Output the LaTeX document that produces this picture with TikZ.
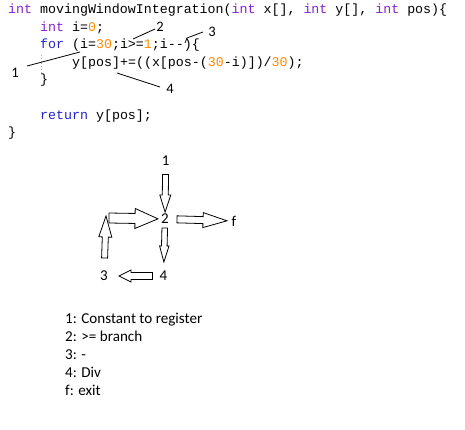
\documentclass[tikz,border=0pt]{standalone}
\usepackage{fontspec}
\setmonofont{Liberation Mono}
\newfontfamily\calfont{Carlito}
\usepackage{tikz}
\usetikzlibrary{calc}

\definecolor{kwint}{RGB}{135,35,205}
\definecolor{kwblue}{RGB}{35,35,205}
\definecolor{numor}{RGB}{255,140,0}

\newcommand\kint{\textcolor{kwint}{int}}
\newcommand\kwd[1]{\textcolor{kwblue}{#1}}
\newcommand\cnum[1]{\textcolor{numor}{#1}}

% hollow block arrow: from, to, gap at tail, gap at tip, shaft half width, head half width, head length
\newcommand\fatarrow[7]{%
  \coordinate (fa-t) at ($(#1)!#3!(#2)$);
  \coordinate (fa-h) at ($(#2)!#4!(#1)$);
  \coordinate (fa-c) at ($(fa-h)!#7!(fa-t)$);
  \draw[fatline] ($(fa-t)!#5!90:(fa-h)$) -- ($(fa-c)!#5!-90:(fa-t)$)
    -- ($(fa-c)!#6!-90:(fa-t)$) -- (fa-h) -- ($(fa-c)!#6!90:(fa-t)$)
    -- ($(fa-c)!#5!90:(fa-t)$) -- ($(fa-t)!#5!-90:(fa-h)$) -- cycle;
}

\tikzset{
  codeline/.style={anchor=base west, inner sep=0, font=\ttfamily\fontsize{13.3}{16}\selectfont},
  marklabel/.style={inner sep=0, font=\calfont\fontsize{14.5}{16}\selectfont},
  stepnum/.style={inner sep=0, font=\calfont\fontsize{15}{17}\selectfont},
  legendline/.style={anchor=base west, inner sep=0, font=\calfont\fontsize{15.1}{17}\selectfont},
  fatline/.style={draw=black, line width=0.8, line join=miter},
  pointer/.style={line width=0.8}
}

\begin{document}
\begin{tikzpicture}[x=1pt, y=-1pt]
  \useasboundingbox[fill=white] (0,0) rectangle (465,430);

  % code
  \node[codeline] (c1) at (8,13.5) {\kint{} movingWindowIntegration(\kint{} x[], \kint{} y[], \kint{} pos)\{};
  \node[codeline] (c2) at (40,31.1) {\kint{} i=\cnum{0};};
  \node[codeline] (c3) at (40,48.7) {\kwd{for} (i=\cnum{30};i>=\cnum{1};i--)\{};
  \node[codeline] (c4) at (72,66.3) {y[pos]+=((x[pos-(\cnum{30}-i)])/\cnum{30});};
  \node[codeline] (c5) at (40,83.9) {\}};
  \node[codeline] (c7) at (40,119.1) {\kwd{return} y[pos];};
  \node[codeline] (c8) at (8,136.7) {\}};
  \draw[gray!60, dotted, line width=0.8] (41,55) -- (41,73);

  % markers in the code
  \coordinate (p1a) at (27,66);   \coordinate (p1b) at (80,52);
  \coordinate (p2a) at (133,39);  \coordinate (p2b) at (155,29);
  \coordinate (p3a) at (185,43);  \coordinate (p3b) at (203,32);
  \coordinate (p4a) at (117,73);  \coordinate (p4b) at (160,87);
  \draw[pointer] (p1a) -- (p1b);
  \draw[pointer] (p2a) -- (p2b);
  \draw[pointer] (p3a) -- ++(2,-5) -- (p3b);
  \draw[pointer] (p4a) -- (p4b);
  \node[marklabel] (a1) at (15,73) {1};
  \node[marklabel] (a2) at (160,27) {2};
  \node[marklabel] (a3) at (212,32) {3};
  \node[marklabel] (a4) at (170,89) {4};

  % graph
  \node[stepnum] (n1) at (165.7,160.5) {1};
  \node[stepnum] (n2) at (165,219) {2};
  \node[stepnum] (nf) at (234,221) {f};
  \node[stepnum] (n3) at (104,276) {3};
  \node[stepnum] (n4) at (163.5,276) {4};
  \coordinate (bend) at (106,216);
  \coordinate (join) at (109,218);

  \fatarrow{n1}{n2}{14pt}{7pt}{3pt}{5.5pt}{17pt}
  \fatarrow{n2}{n4}{9pt}{14pt}{2.8pt}{4.7pt}{16pt}
  \fatarrow{n2}{nf}{12pt}{7pt}{3.5pt}{7.5pt}{24pt}
  \fatarrow{n4}{n3}{11pt}{15pt}{3.5pt}{6pt}{12pt}
  \fatarrow{n3}{bend}{18pt}{0pt}{3pt}{6.5pt}{21pt}
  \fatarrow{join}{n2}{0pt}{7pt}{5pt}{10pt}{23pt}

  % legend
  \node[legendline] (l1) at (65,323) {1: Constant to register};
  \node[legendline] (l2) at (65,341) {2: >= branch};
  \node[legendline] (l3) at (65,359) {3: -};
  \node[legendline] (l4) at (65,377) {4: Div};
  \node[legendline] (l5) at (65,395) {f: exit};
\end{tikzpicture}
\end{document}
